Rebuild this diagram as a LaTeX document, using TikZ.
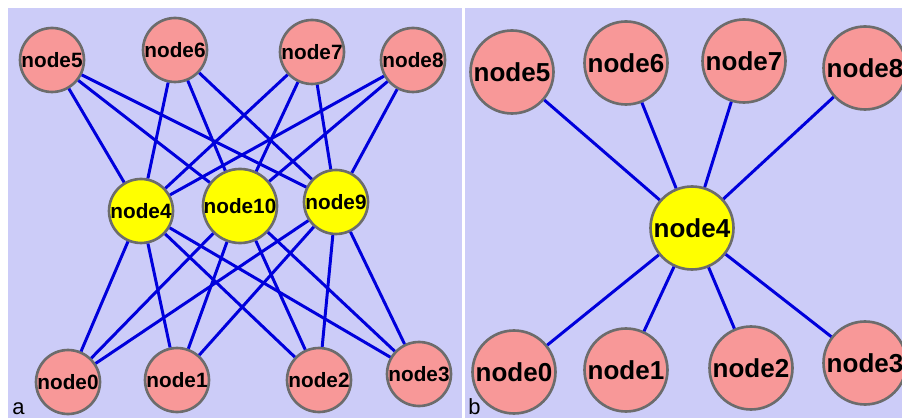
\documentclass[tikz,border=0pt]{standalone}
\usepackage{fontspec}
\setmainfont{Liberation Sans}
\usetikzlibrary{positioning}

\definecolor{panelbg}{RGB}{204,204,248}
\definecolor{leafpink}{RGB}{248,152,152}
\definecolor{hubyellow}{RGB}{255,255,0}
\definecolor{rimgray}{RGB}{108,108,108}
\definecolor{linkblue}{RGB}{0,0,220}

\begin{document}
\begin{tikzpicture}[-,
    x=0.02cm,
    y=-0.02cm,
    every edge/.style={draw=linkblue, line width=1.7pt}]
  \tikzstyle{ball}=[circle, draw=rimgray, line width=1.5pt, inner sep=0pt]
  \tikzstyle{smallball}=[ball, minimum size=1.28cm, font=\fontsize{11.8}{12}\selectfont\bfseries]
  \tikzstyle{bigball}=[ball, minimum size=1.66cm, font=\fontsize{14.8}{15}\selectfont\bfseries]
  \tikzstyle{leaf}=[fill=leafpink]
  \tikzstyle{hub}=[fill=hubyellow]
  \tikzstyle{tag}=[anchor=base west, inner sep=0pt, font=\fontsize{12.5}{13}\selectfont]

  \clip (0,0) rectangle (902,418);
  \fill[white]    (0,0)   rectangle (902,418);
  \fill[panelbg]  (8,8)   rectangle (462,418);
  \fill[panelbg]  (465,8) rectangle (902,418);

  % panel a
  \node (a5)  [smallball, leaf] at (52,60)   {node5};
  \node (a6)  [smallball, leaf] at (175,50)  {node6};
  \node (a7)  [smallball, leaf] at (312,52)  {node7};
  \node (a8)  [smallball, leaf] at (413,60)  {node8};
  \node (a4)  [smallball, hub]  at (141,211) {node4};
  \node (a10) [smallball, hub]  at (240,206) {node10};
  \node (a9)  [smallball, hub]  at (336,202) {node9};
  \node (a0)  [smallball, leaf] at (68,382)  {node0};
  \node (a1)  [smallball, leaf] at (177,380) {node1};
  \node (a2)  [smallball, leaf] at (319,380) {node2};
  \node (a3)  [smallball, leaf] at (419,374) {node3};
  \node (la)  [tag] at (12,414) {a};

  \path (a4)  edge (a5) edge (a6) edge (a7) edge (a8)
              edge (a0) edge (a1) edge (a2) edge (a3)
        (a10) edge (a5) edge (a6) edge (a7) edge (a8)
              edge (a0) edge (a1) edge (a2) edge (a3)
        (a9)  edge (a5) edge (a6) edge (a7) edge (a8)
              edge (a0) edge (a1) edge (a2) edge (a3);

  % panel b
  \node (b5) [bigball, leaf] at (512,72)  {node5};
  \node (b6) [bigball, leaf] at (626,63)  {node6};
  \node (b7) [bigball, leaf] at (744,61)  {node7};
  \node (b8) [bigball, leaf] at (865,68)  {node8};
  \node (b4) [bigball, hub]  at (692,228) {node4};
  \node (b0) [bigball, leaf] at (514,372) {node0};
  \node (b1) [bigball, leaf] at (626,370) {node1};
  \node (b2) [bigball, leaf] at (751,368) {node2};
  \node (b3) [bigball, leaf] at (865,363) {node3};
  \node (lb) [tag] at (468,414) {b};

  \path (b4) edge (b5) edge (b6) edge (b7) edge (b8)
             edge (b0) edge (b1) edge (b2) edge (b3);
\end{tikzpicture}
\end{document}
